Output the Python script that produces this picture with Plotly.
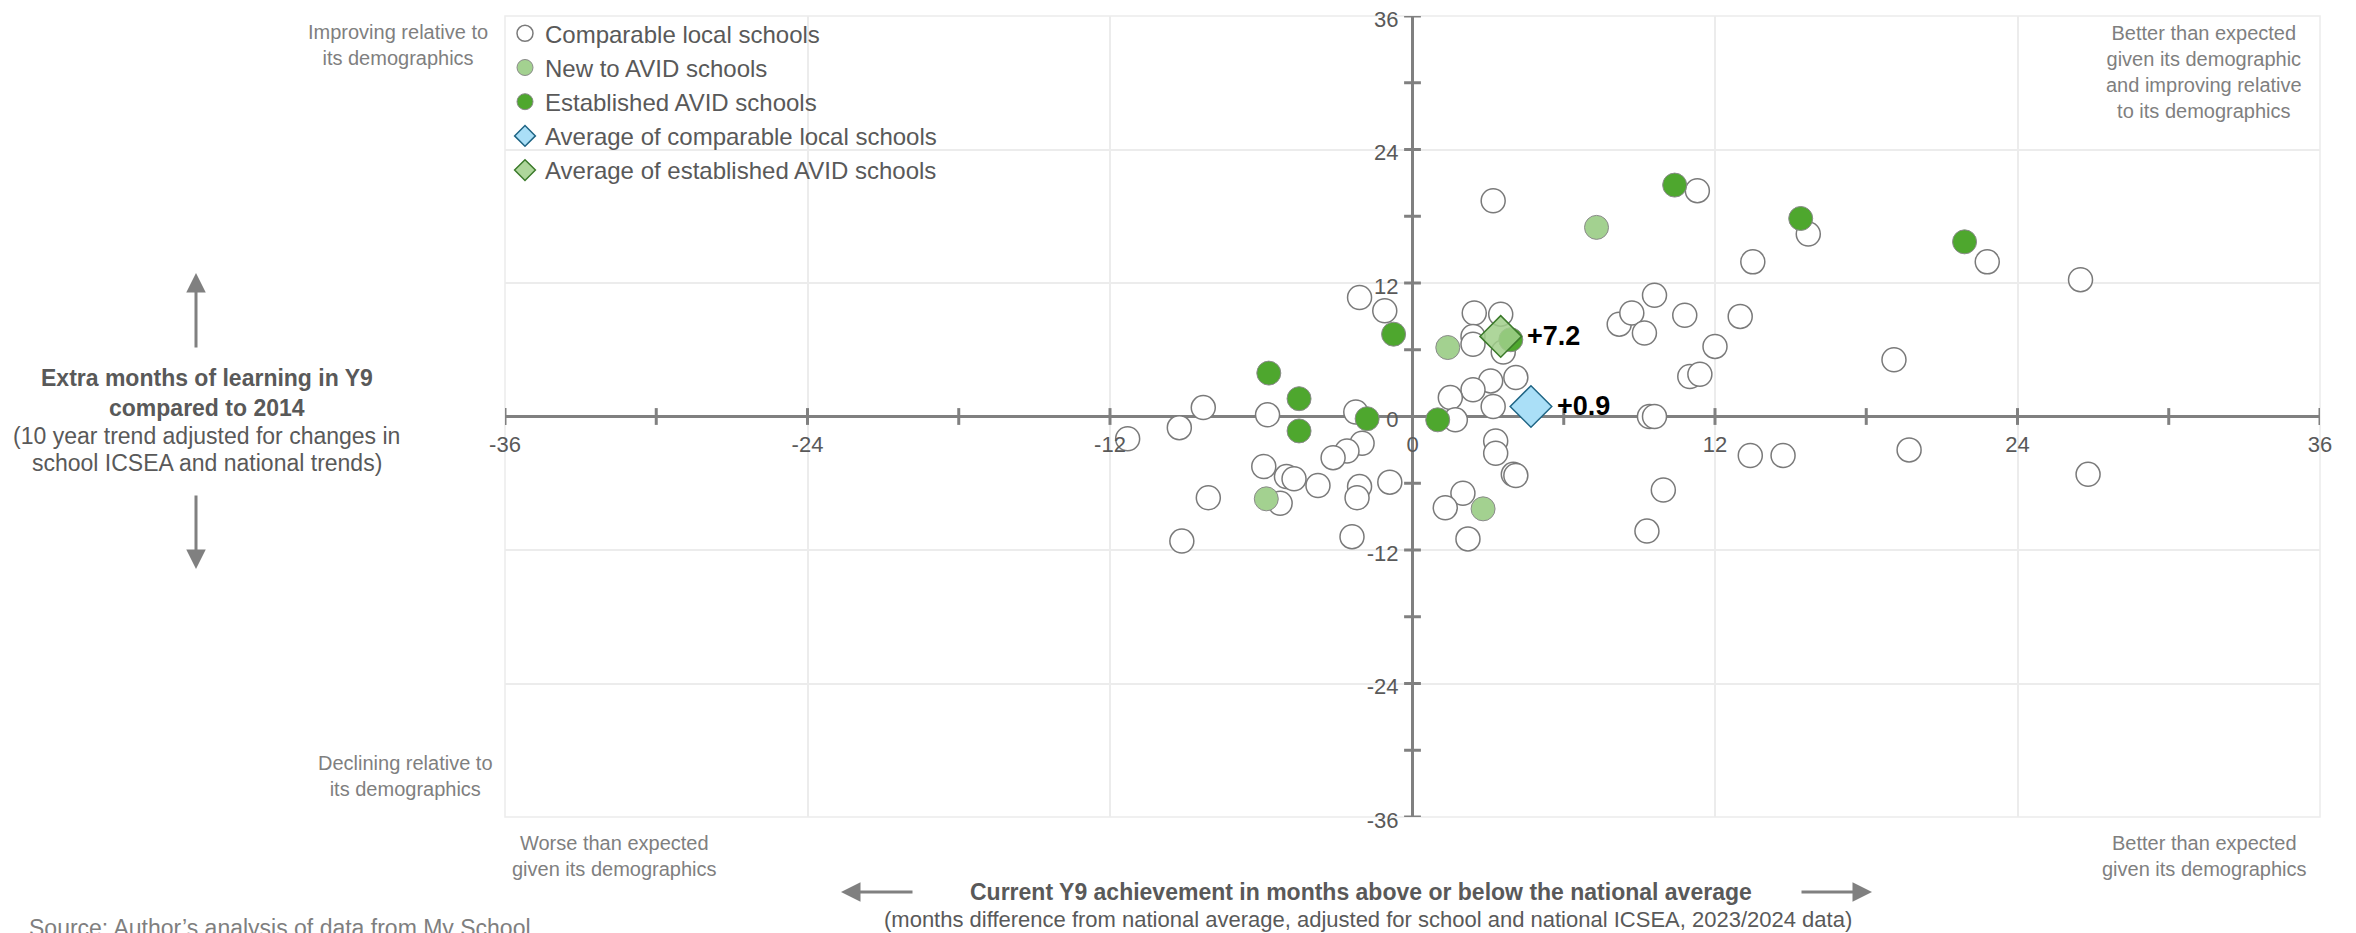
import plotly.graph_objects as go

# ---------------- data ----------------
comp_x = [3.2, 11.3, 15.7, 13.5, 22.8, 26.5, 9.6, 13.0, 12.0, 11.0, 11.4, 19.1, 13.4, 14.7, 19.7, 26.8,
          9.4, 9.6, 9.95, 9.3, 8.2, 8.7, 9.2, 10.8, -2.1, -1.1, 2.45, 3.5, 2.4, 2.4, 3.6, 3.1, 4.1,
          2.4, 1.5, 3.2, 1.7, 3.3, 3.3, 4.0, 4.1, 2.0, 1.3, 2.2, -0.9, -2.1, -2.2, -2.4, -2.0, -2.6,
          -3.15, -2.25, -5.75, -8.3, -9.25, -11.3, -5.9, -5.0, -4.7, -3.75, -5.25, -8.1, -9.15]
comp_y = [19.4, 20.3, 16.4, 13.9, 13.9, 12.3, 10.9, 9.0, 6.3, 3.6, 3.8, 5.1, -3.5, -3.5, -3.0, -5.2,
          0.0, 0.0, -6.6, -10.3, 8.3, 9.3, 7.5, 9.1, 10.7, 9.5, 9.3, 9.2, 7.2, 6.5, 5.8, 3.2, 3.5,
          2.4, 1.7, 0.9, -0.3, -2.2, -3.3, -5.2, -5.3, -6.9, -8.2, -11.0, -5.9, -6.3, -7.3, -10.8, -2.4, -3.1,
          -3.7, 0.4, 0.15, 0.8, -1.0, -2.0, -4.5, -5.4, -5.6, -6.2, -7.8, -7.3, -11.2]

new_x = [7.3, 1.4, -5.8, 2.8]
new_y = [17.0, 6.2, -7.4, -8.3]

est_x = [10.4, 15.4, 21.9, -0.75, 3.9, -5.7, -4.5, -4.5, -1.8, 1.0]
est_y = [20.8, 17.8, 15.7, 7.4, 6.9, 3.9, 1.6, -1.3, -0.2, -0.3]

avg_comp_x, avg_comp_y = [4.7], [0.9]
avg_est_x, avg_est_y = [3.5], [7.2]

tick_vals = [-36, -24, -12, 0, 12, 24, 36]
tick_labels = ["-36", "-24", "-12", "0", "12", "24", "36"]
minor_ticks = [-36, -30, -24, -18, -12, -6, 6, 12, 18, 24, 30, 36]

names = ["Comparable local schools", "New to AVID schools", "Established AVID schools",
         "Average of comparable local schools", "Average of established AVID schools"]

# ---------------- layout helpers ----------------
OFF = 8                      # page body margin
W, H = 2356 - OFF, 933 - OFF
L, R, T, B = 497, 36, 8, 116
PW, PH = W - L - R, H - T - B


def sx(px):  # screen px -> paper x
    return (px - OFF - L) / PW


def sy(py):  # screen px -> paper y
    return (H - B - (py - OFF)) / PH


TITLE = "#595959"
SOFT = "#7f7f7f"
AXIS = "#808080"
GREEN = "#4ea72e"
FONT = "Liberation Sans, Arial, sans-serif"

fig = go.Figure()

# tick marks crossing the zero lines
fig.add_trace(go.Scatter(x=minor_ticks, y=[0] * len(minor_ticks), mode="markers",
                         marker=dict(symbol="line-ns", size=12, line=dict(color=AXIS, width=3)),
                         showlegend=False, hoverinfo="skip"))
fig.add_trace(go.Scatter(x=[0] * len(minor_ticks), y=minor_ticks, mode="markers",
                         marker=dict(symbol="line-ew", size=12, line=dict(color=AXIS, width=3)),
                         showlegend=False, hoverinfo="skip"))

fig.add_trace(go.Scatter(x=comp_x, y=comp_y, mode="markers", name=names[0],
                         marker=dict(size=24, color="white", line=dict(color="#7a7a7a", width=1.5)),
                         hoverinfo="skip"))
fig.add_trace(go.Scatter(x=new_x, y=new_y, mode="markers", name=names[1],
                         marker=dict(size=24, color="#a3d190", line=dict(color="#8a8a8a", width=1)),
                         hoverinfo="skip"))
fig.add_trace(go.Scatter(x=est_x, y=est_y, mode="markers", name=names[2],
                         marker=dict(size=24, color=GREEN, line=dict(color="#8a8a8a", width=1)),
                         hoverinfo="skip"))
fig.add_trace(go.Scatter(x=avg_comp_x, y=avg_comp_y, mode="markers", name=names[3],
                         marker=dict(symbol="diamond", size=32, color="#aadff7",
                                     line=dict(color="#1f6585", width=1.5)),
                         hoverinfo="skip"))
fig.add_trace(go.Scatter(x=avg_est_x, y=avg_est_y, mode="markers", name=names[4],
                         marker=dict(symbol="diamond", size=32, color="rgba(160,207,138,0.85)",
                                     line=dict(color="#3b7a2a", width=1.5)),
                         hoverinfo="skip"))

axis_common = dict(range=[-36, 36], tickvals=tick_vals, ticktext=tick_labels,
                   showgrid=True, gridcolor="#ececec", gridwidth=1.5,
                   zeroline=True, zerolinecolor=AXIS, zerolinewidth=3,
                   showline=False, ticks="", anchor="free", position=0.5, automargin=False,
                   ticklabeloverflow="allow",
                   tickfont=dict(family=FONT, size=22, color=TITLE), fixedrange=True)

fig.update_layout(
    width=W, height=H,
    margin=dict(l=L, r=R, t=T, b=B, autoexpand=False),
    paper_bgcolor="white", plot_bgcolor="white",
    font=dict(family=FONT, color=TITLE),
    xaxis=dict(**axis_common, ticklabelstandoff=12),
    yaxis=dict(**axis_common, ticklabelstandoff=14, ticklabelshift=3),
    legend=dict(x=0, y=1.006, xanchor="left", yanchor="top", bgcolor="rgba(0,0,0,0)",
                font=dict(family=FONT, size=24, color=TITLE), tracegroupgap=0),
    showlegend=True,
)

fig.add_shape(type="rect", xref="paper", yref="paper", x0=0, y0=0, x1=1, y1=1,
              line=dict(color="#ececec", width=1.5), layer="below")

ann = []
# value labels next to the averages
lab_font = dict(family=FONT, size=27, color="black", weight="bold")
ann.append(dict(x=avg_est_x[0], y=avg_est_y[0], text=f"+{avg_est_y[0]:.1f}", showarrow=False,
                xanchor="left", yanchor="middle", xshift=24, font=lab_font))
ann.append(dict(x=avg_comp_x[0], y=avg_comp_y[0], text=f"+{avg_comp_y[0]:.1f}", showarrow=False,
                xanchor="left", yanchor="middle", xshift=24, font=lab_font))

paper = dict(xref="paper", yref="paper", xanchor="center", yanchor="middle", showarrow=False)
# y-axis title, one line per annotation
ytitle_lines = [("<b>Extra months of learning in Y9</b>", 378),
                ("<b>compared to 2014</b>", 408),
                ("(10 year trend adjusted for changes in", 436),
                ("school ICSEA and national trends)", 463)]
for txt, ypx in ytitle_lines:
    ann.append(dict(**paper, x=sx(206.5), y=sy(ypx), text=txt,
                    font=dict(family=FONT, size=23, color=TITLE)))

ann.append(dict(**paper, x=sx(1361), y=sy(892),
                text="<b>Current Y9 achievement in months above or below the national average</b>",
                font=dict(family=FONT, size=23, color=TITLE)))
ann.append(dict(**paper, x=sx(1368), y=sy(919),
                text="(months difference from national average, adjusted for school and national ICSEA, 2023/2024 data)",
                font=dict(family=FONT, size=22, color=TITLE)))
# arrows
arrow = dict(xref="paper", yref="paper", text="", showarrow=True,
             arrowhead=2, arrowsize=1.3, arrowwidth=3, arrowcolor=AXIS)
for hx, hy, axo, ayo in [(196, 273, 0, 76), (196, 569, 0, -75), (841, 892, 73, 0), (1872, 892, -72, 0)]:
    ann.append(dict(**arrow, x=sx(hx), y=sy(hy), ax=axo, ay=ayo))

corner_font = dict(family=FONT, size=20, color=SOFT)
ann.append(dict(**paper, x=sx(398), y=sy(45), align="center",
                text="Improving relative to<br>its demographics", font=corner_font))
ann.append(dict(**paper, x=sx(405), y=sy(776), align="center",
                text="Declining relative to<br>its demographics", font=corner_font))
ann.append(dict(**paper, x=sx(2204), y=sy(72), align="center",
                text="Better than expected<br>given its demographic<br>and improving relative<br>to its demographics",
                font=corner_font))
ann.append(dict(**paper, x=sx(614), y=sy(856), align="center",
                text="Worse than expected<br>given its demographics", font=corner_font))
ann.append(dict(**paper, x=sx(2204), y=sy(856), align="center",
                text="Better than expected<br>given its demographics", font=corner_font))
src = dict(paper)
src["xanchor"] = "left"
ann.append(dict(**src, x=sx(27), y=sy(928),
                text="Source: Author’s analysis of data from My School",
                font=dict(family=FONT, size=23, color=SOFT)))

fig.update_layout(annotations=ann)
fig.write_html("out.html")
